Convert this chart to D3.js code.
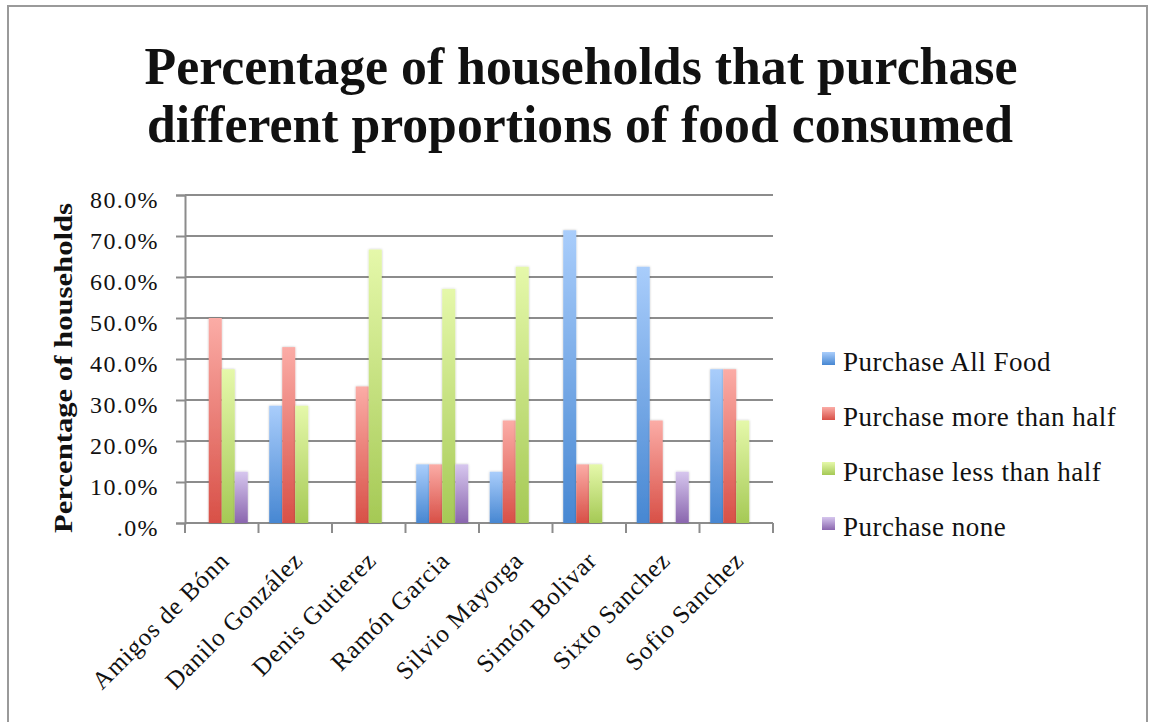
<!DOCTYPE html>
<html lang="en">
<head>
<meta charset="UTF-8">
<script src="https://d3js.org/d3.v7.min.js"></script>
<style>
    body { margin: 0; background: #fff; }
    text { font-family: "Liberation Serif", "Times New Roman", serif; fill: #111; }
</style>
</head>
<body>
<div id="chart"></div>
<script>
    // Data
    const categories = ["Amigos de Bónn", "Danilo González", "Denis Gutierez", "Ramón Garcia",
        "Silvio Mayorga", "Simón Bolivar", "Sixto Sanchez", "Sofio Sanchez"];
    const seriesNames = ["Purchase All Food", "Purchase more than half", "Purchase less than half", "Purchase none"];
    const allFood = [0, 28.6, 0, 14.3, 12.5, 71.4, 62.5, 37.5];
    const moreThanHalf = [50.0, 42.9, 33.3, 14.3, 25.0, 14.3, 25.0, 37.5];
    const lessThanHalf = [37.5, 28.6, 66.7, 57.1, 62.5, 14.3, 0, 25.0];
    const purchaseNone = [12.5, 0, 0, 14.3, 0, 0, 12.5, 0];
    const yTicks = [0, 10, 20, 30, 40, 50, 60, 70, 80];

    const seriesValues = [allFood, moreThanHalf, lessThanHalf, purchaseNone];
    const gradStops = [["#a9cdfb", "#4787d2"], ["#fbaca6", "#d85047"], ["#e5f8aa", "#a5c955"], ["#d6c6ee", "#8a66ae"]];

    const width = 1151, height = 722;
    const plot = { left: 185, right: 773, top: 195, bottom: 523 };

    const svg = d3.select("#chart").append("svg")
        .attr("width", width)
        .attr("height", height);

    // outer frame
    svg.append("rect")
        .attr("x", 8).attr("y", 6)
        .attr("width", 1139).attr("height", 740)
        .attr("fill", "none")
        .attr("stroke", "#9a9a9a")
        .attr("stroke-width", 2);

    const defs = svg.append("defs");
    seriesNames.forEach((s, i) => {
        const g = defs.append("linearGradient")
            .attr("id", "grad" + i)
            .attr("x1", 0).attr("y1", 0).attr("x2", 0).attr("y2", 1);
        g.append("stop").attr("offset", "0%").attr("stop-color", gradStops[i][0]);
        g.append("stop").attr("offset", "100%").attr("stop-color", gradStops[i][1]);
    });
    const shadow = defs.append("filter").attr("id", "shadow")
        .attr("x", "-30%").attr("y", "-10%").attr("width", "160%").attr("height", "120%");
    shadow.append("feDropShadow")
        .attr("dx", 0).attr("dy", 0).attr("stdDeviation", 1)
        .attr("flood-color", "#000").attr("flood-opacity", 0.25);

    // Title
    const title = svg.append("text")
        .attr("text-anchor", "middle")
        .style("font-weight", "bold")
        .style("font-size", "53px");
    title.append("tspan").attr("x", 581).attr("y", 84)
        .attr("textLength", 873).attr("lengthAdjust", "spacingAndGlyphs")
        .text("Percentage of households that purchase");
    title.append("tspan").attr("x", 580).attr("y", 142)
        .attr("textLength", 866).attr("lengthAdjust", "spacingAndGlyphs")
        .text("different proportions of food consumed");

    // Scales
    const y = d3.scaleLinear().domain([0, 80]).range([plot.bottom, plot.top]);
    const x0 = d3.scaleBand().domain(categories).range([plot.left, plot.right]).padding(0);
    const gap = x0.bandwidth() * 0.146;
    const x1 = d3.scaleBand().domain(seriesNames).range([gap, x0.bandwidth() - gap]).padding(0);

    // Gridlines
    svg.append("g").selectAll("line")
        .data(yTicks)
        .join("line")
        .attr("x1", plot.left).attr("x2", plot.right)
        .attr("y1", d => y(d)).attr("y2", d => y(d))
        .attr("stroke", "#8c8c8c")
        .attr("stroke-width", 2);

    // Y axis
    const yAxis = svg.append("g")
        .attr("transform", `translate(${plot.left},0)`)
        .call(d3.axisLeft(y).tickValues(yTicks).tickSize(9).tickPadding(17)
            .tickFormat(d => d === 0 ? ".0%" : d.toFixed(1) + "%"));
    yAxis.select(".domain").attr("stroke", "#8c8c8c").attr("stroke-width", 2);
    yAxis.selectAll(".tick line").attr("stroke", "#8c8c8c").attr("stroke-width", 2);
    yAxis.selectAll(".tick text")
        .attr("dy", "0.5em")
        .style("font-family", "'Liberation Serif', serif")
        .style("font-size", "24px")
        .style("letter-spacing", "1.4px")
        .attr("fill", "#111");

    // X axis (ticks between categories)
    const xAxis = svg.append("g");
    xAxis.append("line")
        .attr("x1", plot.left).attr("x2", plot.right)
        .attr("y1", plot.bottom).attr("y2", plot.bottom)
        .attr("stroke", "#8c8c8c").attr("stroke-width", 2);
    xAxis.selectAll(".xtick")
        .data(categories.map(c => x0(c)).concat([plot.right]))
        .join("line")
        .attr("x1", d => d).attr("x2", d => d)
        .attr("y1", plot.bottom).attr("y2", plot.bottom + 10)
        .attr("stroke", "#8c8c8c").attr("stroke-width", 2);
    xAxis.selectAll(".xlabel")
        .data(categories)
        .join("text")
        .attr("text-anchor", "end")
        .attr("transform", d => `translate(${x0(d) + x0.bandwidth() / 2 + 9},562) rotate(-45)`)
        .style("font-size", "25px")
        .style("letter-spacing", "0.9px")
        .text(d => d);

    // Bars
    const groups = svg.append("g").selectAll("g")
        .data(categories)
        .join("g")
        .attr("transform", d => `translate(${x0(d)},0)`);
    groups.selectAll("rect")
        .data((d, ci) => seriesNames.map((s, si) => ({ s, si, v: seriesValues[si][ci] })))
        .join("rect")
        .filter(d => d.v > 0)
        .attr("x", d => x1(d.s))
        .attr("y", d => y(d.v))
        .attr("width", x1.bandwidth())
        .attr("height", d => y(0) - y(d.v))
        .attr("fill", d => `url(#grad${d.si})`)
        .attr("filter", "url(#shadow)");

    // Y title
    svg.append("text")
        .attr("transform", "translate(72,368) rotate(-90)")
        .attr("text-anchor", "middle")
        .attr("textLength", 330)
        .attr("lengthAdjust", "spacingAndGlyphs")
        .style("font-weight", "bold")
        .style("font-size", "25px")
        .text("Percentage of households");

    // Legend
    const legend = svg.append("g").selectAll("g")
        .data(seriesNames)
        .join("g")
        .attr("transform", (d, i) => `translate(822,${371 + i * 55})`);
    legend.append("rect")
        .attr("x", 0).attr("y", -19)
        .attr("width", 13).attr("height", 13)
        .attr("fill", (d, i) => `url(#grad${i})`);
    legend.append("text")
        .attr("x", 21).attr("y", 0)
        .style("font-size", "27px")
        .style("letter-spacing", "0.5px")
        .text(d => d);
</script>
</body>
</html>
